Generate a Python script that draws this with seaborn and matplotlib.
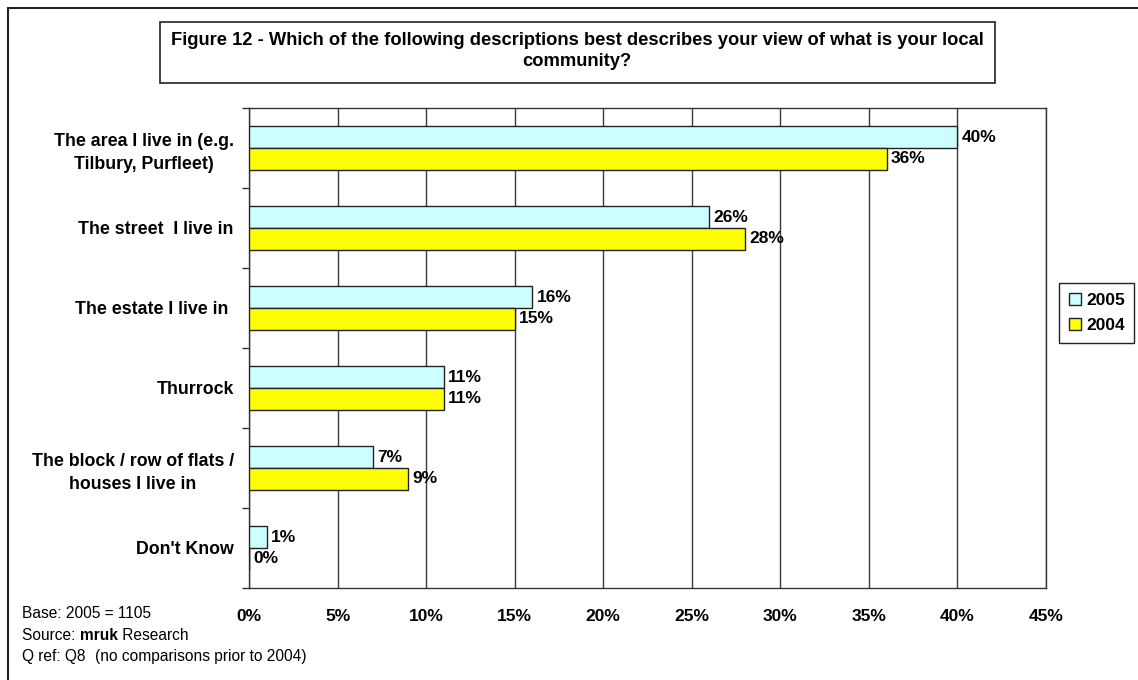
import matplotlib
matplotlib.use("Agg")
import matplotlib.pyplot as plt
from matplotlib.patches import Rectangle, Patch
from matplotlib.ticker import FixedLocator, MultipleLocator, PercentFormatter
import seaborn as sns
import pandas as pd

# Survey answers and shares (%) per year
categories = [
    "The area I live in (e.g.\nTilbury, Purfleet)",
    "The street  I live in",
    "The estate I live in ",
    "Thurrock",
    "The block / row of flats /\nhouses I live in",
    "Don't Know",
]
share_2005 = [40, 26, 16, 11, 7, 1]
share_2004 = [36, 28, 15, 11, 9, 0]
years = ["2005", "2004"]
year_colors = ["#CCFFFF", "#FFFF00"]
x_ticks = [0, 5, 10, 15, 20, 25, 30, 35, 40, 45]

df = pd.DataFrame({
    "category": categories * 2,
    "share": share_2005 + share_2004,
    "year": [years[0]] * len(categories) + [years[1]] * len(categories),
})

sns.set_theme(style="white")
plt.rcParams["font.family"] = ["Liberation Sans", "DejaVu Sans"]
plt.rcParams["text.color"] = "black"
plt.rcParams["xtick.color"] = "black"
plt.rcParams["ytick.color"] = "black"

W, H = 1138, 680
fig = plt.figure(figsize=(W / 100, H / 100), dpi=100)
fig.patch.set_facecolor("white")

left, right, top, bottom = 249, 1046, 108, 588
ax = fig.add_axes([left / W, 1 - bottom / H, (right - left) / W, (bottom - top) / H])

sns.barplot(
    data=df, y="category", x="share", hue="year", hue_order=years,
    order=categories, orient="h", palette=year_colors, saturation=1,
    width=0.54, edgecolor="#222222", linewidth=1.0, legend=False, ax=ax,
    zorder=3,
)

ax.set_xlim(0, 45)
ax.set_ylim(len(categories) - 0.5, -0.5)
ax.set_xlabel("")
ax.set_ylabel("")

# x axis: percentage ticks, vertical grid lines
ax.xaxis.set_major_locator(FixedLocator(x_ticks))
ax.xaxis.set_major_formatter(PercentFormatter(decimals=0))
ax.grid(axis="x", color="#3a3a3a", linewidth=1.0, zorder=0)
ax.grid(axis="y", visible=False)
ax.set_axisbelow(True)
ax.tick_params(axis="x", which="major", direction="out", length=5, width=1,
               color="#333333", labelcolor="black", pad=10, labelsize=12.5)
for lbl in ax.get_xticklabels():
    lbl.set_fontweight("bold")

# y axis: category labels with separator ticks between groups
ax.yaxis.set_minor_locator(MultipleLocator(1, offset=0.5))
ax.tick_params(axis="y", which="major", length=0, pad=11, labelsize=12.8,
               labelcolor="black")
ax.tick_params(axis="y", which="minor", direction="out", length=5, width=1,
               color="#333333", left=True)
for lbl in ax.get_yticklabels():
    lbl.set_fontweight("bold")
    lbl.set_multialignment("center")
    lbl.set_linespacing(1.45)

for s in ax.spines.values():
    s.set_visible(True)
    s.set_color("#333333")
    s.set_linewidth(1.0)

# value labels at bar ends
for cont, vals in zip(ax.containers, [share_2005, share_2004]):
    ax.bar_label(cont, labels=[f"{v}%" for v in vals], padding=3,
                 fontsize=12.5, fontweight="bold", color="black")

# title box
fig.text(577 / W, 1 - 51 / H,
         "Figure 12 - Which of the following descriptions best describes your view of what is your local\ncommunity?",
         ha="center", va="center", fontsize=13.2, fontweight="bold",
         linespacing=1.3)
fig.add_artist(Rectangle((160 / W, 1 - 83 / H), (995 - 160) / W, (83 - 22) / H,
                         transform=fig.transFigure, fill=False,
                         edgecolor="#222222", linewidth=1.2))

# outer frame
fig.add_artist(Rectangle((8 / W, -0.1), 1.2, 1.1 - 8 / H,
                         transform=fig.transFigure, fill=False,
                         edgecolor="#222222", linewidth=1.5))

# legend
handles = [Patch(facecolor=c, edgecolor="#222222", linewidth=1.0, label=y)
           for c, y in zip(year_colors, years)]
fig.legend(handles=handles, loc="upper left",
           bbox_to_anchor=(1059 / W, 1 - 283 / H), frameon=True,
           fancybox=False, edgecolor="#222222", framealpha=1,
           prop={"weight": "bold", "size": 12.5},
           handlelength=0.7, handleheight=0.7, handletextpad=0.3,
           borderpad=0.55, labelspacing=0.6, borderaxespad=0)

# footnotes
fs = 11.2
fig.text(22 / W, 1 - 613 / H, "Base: 2005 = 1105", ha="left", va="center", fontsize=fs)
t = fig.text(22 / W, 1 - 635 / H, "Source: ", ha="left", va="center", fontsize=fs)
fig.canvas.draw()
bb = t.get_window_extent()
t2 = fig.text(bb.x1 / W, 1 - 635 / H, "mruk", ha="left", va="center",
              fontsize=fs, fontweight="bold")
fig.canvas.draw()
bb2 = t2.get_window_extent()
fig.text(bb2.x1 / W, 1 - 635 / H, " Research", ha="left", va="center", fontsize=fs)
fig.text(22 / W, 1 - 657 / H, "Q ref: Q8", ha="left", va="center", fontsize=fs)
fig.text(95 / W, 1 - 657 / H, "(no comparisons prior to 2004)", ha="left",
         va="center", fontsize=fs)

fig.savefig("out.png", dpi=100, facecolor="white")
